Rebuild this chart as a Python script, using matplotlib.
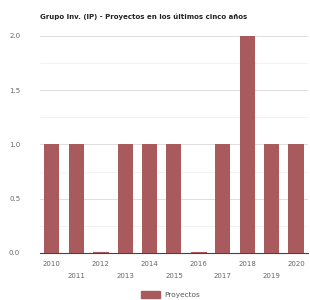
import matplotlib
matplotlib.use("Agg")
import matplotlib.pyplot as plt
from matplotlib.patches import Patch

# --- Datos ---
anios = ["2010", "2011", "2012", "2013", "2014", "2015", "2016", "2017", "2018", "2019", "2020"]
proyectos = [1, 1, 0, 1, 1, 1, 0, 1, 2, 1, 1]
titulo = "Grupo Inv. (IP) - Proyectos en los últimos cinco años"

color_barra = "#a85a5c"

fig = plt.figure(figsize=(3.1, 3.0), dpi=100)
ax = fig.add_axes([0.128, 0.157, 0.866, 0.723])

x = list(range(len(anios)))
ax.bar(x, proyectos, width=0.62, color=color_barra, zorder=3)
# barras a cero: pequeña línea visible
for xi, v in zip(x, proyectos):
    if v == 0:
        ax.plot([xi - 0.31, xi + 0.31], [0.005, 0.005], color=color_barra, lw=0.8, zorder=3)

ax.set_xlim(-0.5, len(anios) - 0.5)
ax.set_ylim(0, 2.0)
ax.set_yticks([0, 0.5, 1.0, 1.5, 2.0])
ax.set_yticklabels(["0.0", "0.5", "1.0", "1.5", "2.0"])
ax.set_yticks([0.25, 0.75, 1.25, 1.75], minor=True)
ax.grid(True, axis="y", which="major", color="#dddddd", lw=0.7, zorder=0)
ax.grid(True, axis="y", which="minor", color="#f0f0f0", lw=0.6, zorder=0)

for s in ["left", "right", "top"]:
    ax.spines[s].set_visible(False)
ax.spines["bottom"].set_color("#444444")
ax.spines["bottom"].set_linewidth(0.8)

ax.tick_params(axis="y", length=0, labelsize=5, labelcolor="#666666", pad=14)
ax.tick_params(axis="y", which="minor", length=0)
ax.tick_params(axis="x", length=0, labelsize=5, labelcolor="#666666")

# etiquetas del eje x alternadas en dos filas
ax.set_xticks(x)
ax.set_xticklabels(["" for _ in anios])
for xi, lab in zip(x, anios):
    dy = -0.1 if xi % 2 == 0 else -0.21
    ax.text(xi, dy, lab, ha="center", va="center", fontsize=5, color="#666666")

fig.text(0.128, 0.943, titulo, ha="left", va="center", fontsize=5, fontweight="bold", color="#222222")

fig.legend(handles=[Patch(color=color_barra, label="Proyectos")], loc="center",
           bbox_to_anchor=(0.55, 0.018), frameon=False, fontsize=5.3, labelcolor="#555555",
           handlelength=2.6, handleheight=1.0, handletextpad=0.5)

fig.savefig("out.png", dpi=100)
